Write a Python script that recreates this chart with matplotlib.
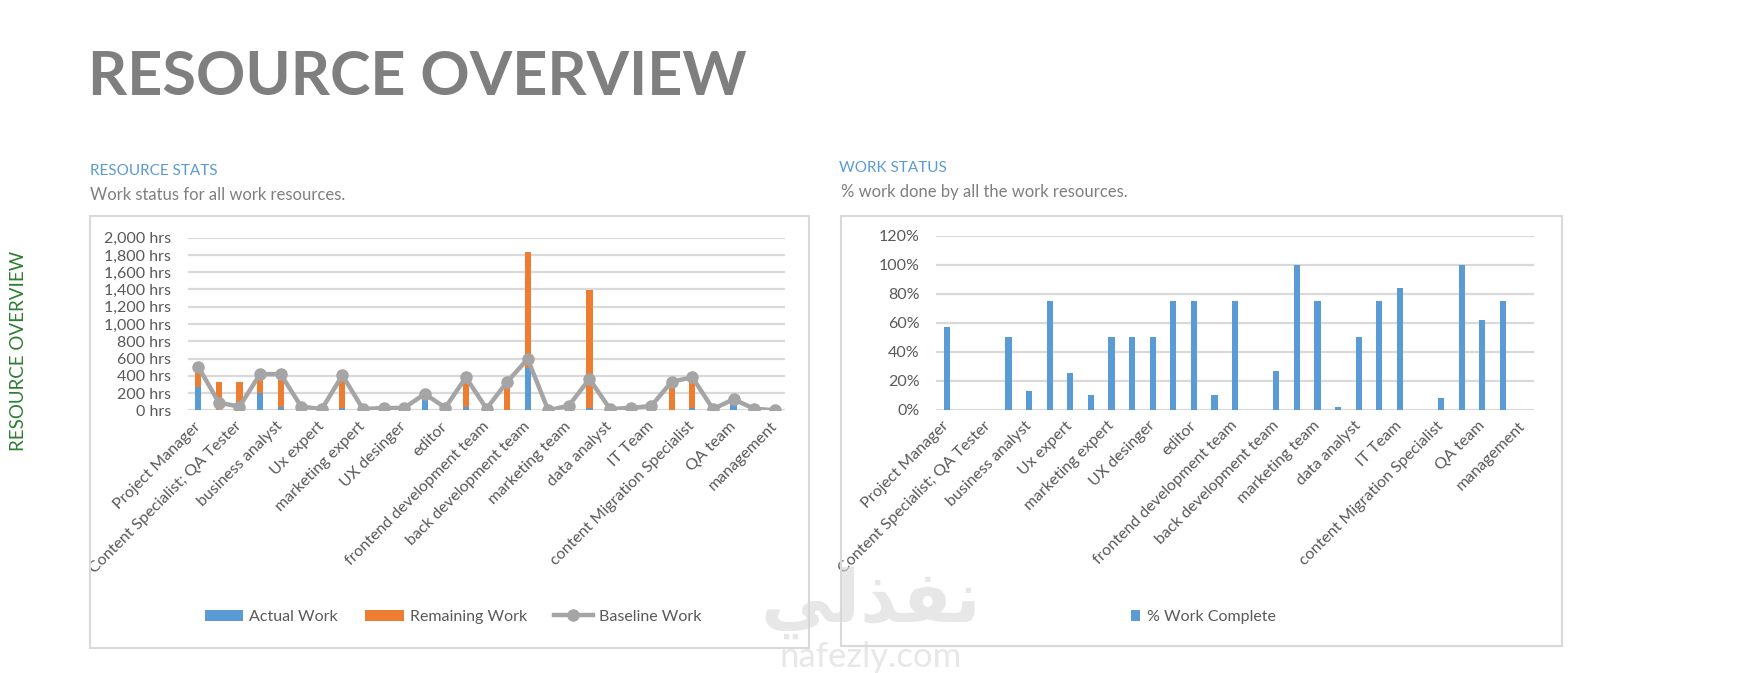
import numpy as np
import matplotlib
matplotlib.use("Agg")
import matplotlib.pyplot as plt
from matplotlib.patches import Rectangle
from matplotlib.ticker import FuncFormatter

plt.rcParams['font.family'] = ['Lato', 'DejaVu Sans']

# resources (only every second name shows on the axis)
resources = [
    'Project Manager', 'Content Specialist', 'Content Specialist; QA Tester',
    'QA Tester', 'business analyst', 'UI designer', 'Ux expert',
    'marketing manager', 'marketing expert', 'UX researcher', 'UX desinger',
    'graphic designer', 'editor', 'frontend developer',
    'frontend development team', 'backend developer', 'back development team',
    'marketing specialist', 'marketing team', 'data engineer', 'data analyst',
    'IT support', 'IT Team', 'content writer', 'content Migration Specialist',
    'QA engineer', 'QA team', 'operations', 'management',
]

actual_work = [265, 0, 0, 205, 35, 30, 4, 27, 8, 13, 13, 130, 23, 34, 14,
               0, 495, 0, 40, 28, 8, 20, 42, 0, 28, 15, 80, 14, 0]
remaining_work = [200, 330, 330, 205, 375, 10, 11, 363, 7, 14, 14, 45, 8, 306, 5,
                  300, 1335, 0, 14, 1366, 7, 7, 8, 300, 322, 0, 50, 5, 0]
baseline_work = [505, 89, 42, 420, 420, 42, 15, 405, 15, 27, 27, 190, 31, 382, 19,
                 328, 595, 0, 54, 363, 15, 27, 50, 332, 382, 15, 127, 19, 0]

pct_complete = [57, 0, 0, 50, 13, 75, 25, 10, 50, 50, 50, 75, 75, 10, 75,
                0, 27, 100, 75, 2, 50, 75, 84, 0, 8, 100, 62, 75, 0]

hrs_ticks = list(range(0, 2001, 200))
pct_ticks = [0, 0.2, 0.4, 0.6, 0.8, 1.0, 1.2]

BLUE = '#5B9BD5'
ORANGE = '#ED7D31'
GRAY = '#A5A5A5'
GRID = '#D9D9D9'
TXT = '#595959'
FS = 11.5

W, H = 1743, 673
fig = plt.figure(figsize=(W / 100, H / 100), dpi=100)


def fx(px):
    return px / W


def fy(py):
    return 1 - py / H


def box(x0, y0, x1, y1):
    fig.patches.append(Rectangle((fx(x0), fy(y1)), fx(x1) - fx(x0), fy(y0) - fy(y1),
                                 transform=fig.transFigure, fill=False,
                                 edgecolor=GRID, linewidth=1.5))


def style_axis(ax):
    for s in ax.spines.values():
        s.set_visible(False)
    ax.tick_params(length=0, colors=TXT, labelsize=FS)
    ax.yaxis.grid(True, color=GRID, linewidth=1.6)
    ax.set_axisbelow(True)
    ax.set_xlim(-0.5, len(resources) - 0.5)
    ax.set_xticks(range(0, len(resources), 2))
    ax.set_xticklabels(resources[::2], rotation=45, ha='right', va='center',
                       rotation_mode='anchor', fontsize=FS, color=TXT)
    ax.tick_params(axis='x', pad=10)
    ax.tick_params(axis='y', pad=12)


# headings
fig.text(fx(88), fy(95), 'RESOURCE OVERVIEW', fontsize=44, fontweight='bold',
         color='#7F7F7F', ha='left', va='baseline')
fig.text(fx(19), fy(351), 'RESOURCE OVERVIEW', fontsize=13.5, color='#2E7D32',
         rotation=90, ha='center', va='center')

fig.text(fx(90), fy(175), 'RESOURCE STATS', fontsize=11, color=BLUE,
         ha='left', va='baseline')
fig.text(fx(90), fy(200), 'Work status for all work resources.', fontsize=12,
         color='#7F7F7F', ha='left', va='baseline')
fig.text(fx(839), fy(172), 'WORK STATUS', fontsize=11, color=BLUE,
         ha='left', va='baseline')
fig.text(fx(841), fy(197), '% work done by all the work resources.', fontsize=12,
         color='#7F7F7F', ha='left', va='baseline')

box(90, 216, 809, 648)
box(841, 216, 1562, 646)

x = np.arange(len(resources))

# left chart: resource stats
ax1 = fig.add_axes([fx(188), fy(410.3), fx(785) - fx(188), fy(237.7) - fy(410.3)])
b1 = ax1.bar(x, actual_work, width=0.3, color=BLUE, label='Actual Work', zorder=2)
b2 = ax1.bar(x, remaining_work, width=0.3, bottom=actual_work, color=ORANGE,
             label='Remaining Work', zorder=2)
l1, = ax1.plot(x, baseline_work, color=GRAY, linewidth=3.2, marker='o',
               markersize=8, label='Baseline Work', zorder=3)
ax1.set_ylim(0, 2000)
ax1.set_yticks(hrs_ticks)
ax1.yaxis.set_major_formatter(FuncFormatter(lambda v, p: '{:,.0f} hrs'.format(v)))
style_axis(ax1)
ax1.legend(handles=[b1, b2, l1], loc='center', bbox_to_anchor=(fx(453), fy(617)),
           bbox_transform=fig.transFigure, ncol=3, frameon=False, fontsize=FS,
           labelcolor=TXT, handlelength=2.4, handleheight=0.7, handletextpad=0.4,
           columnspacing=1.7)

# right chart: work status
ax2 = fig.add_axes([fx(936.4), fy(409.7), fx(1533.8) - fx(936.4), fy(235.6) - fy(409.7)])
b3 = ax2.bar(x, np.array(pct_complete) / 100, width=0.31, color=BLUE,
             label='% Work Complete', zorder=2)
ax2.set_ylim(0, 1.2)
ax2.set_yticks(pct_ticks)
ax2.yaxis.set_major_formatter(FuncFormatter(lambda v, p: '{:.0%}'.format(v)))
style_axis(ax2)
ax2.legend(handles=[b3], loc='center', bbox_to_anchor=(fx(1203), fy(617)),
           bbox_transform=fig.transFigure, frameon=False, fontsize=FS,
           labelcolor=TXT, handlelength=0.6, handleheight=0.75, handletextpad=0.4)

# watermark
fig.text(fx(871), fy(603), '\uFEF2\uFEDF\uFEAC\uFED4\uFEE7', fontsize=52,
         fontweight='bold', family=['DejaVu Sans'], color='#D8D8D8', alpha=0.6,
         ha='center', va='center', zorder=10)
fig.text(fx(871), fy(657), 'nafezly.com', fontsize=25, color='#D8D8D8', alpha=0.6,
         ha='center', va='center', zorder=10)

fig.savefig('out.png', dpi=100, facecolor='white')
